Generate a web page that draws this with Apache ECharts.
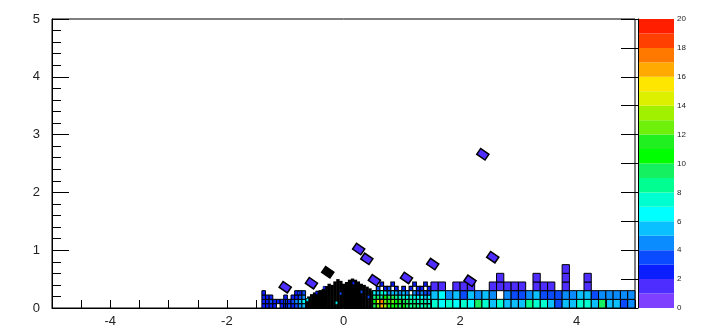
<!DOCTYPE html>
<html><head><meta charset="utf-8">
<script src="https://cdn.jsdelivr.net/npm/echarts@6/dist/echarts.min.js"></script>
<style>html,body{margin:0;padding:0;background:#fff}#c{width:714px;height:329px}</style>
</head><body><div id="c"></div>
<script>
// ---- data ----
const xLabels = [-4, -2, 0, 2, 4];
const yLabels = [0, 1, 2, 3, 4, 5];
const colorbarLabels = [0, 2, 4, 6, 8, 10, 12, 14, 16, 18, 20];
const colorbarLevels = [0,1,2,3,4,5,6,7,8,9,10,11,12,13,14,15,16,17,18,19];
const palette = ['#7f3fff','#4d2dff','#0a1eff','#0a4bff','#0a8cff','#0ac0ff','#00ffff','#00ffd0','#00ff90','#14f060',
                 '#00ff00','#20f020','#6ef00a','#a0f000','#dcf000','#ffe600','#ffaa00','#ff7800','#ff4000','#ff1e00'];

// far bins: x from 1.5, width 0.125; rows of height 0.15
const farRow0 = [7,6,7,6,7,6,9,7,5,7,5,5,5,8,7,7,5,3,5,5,7,7,5,9,5,5,3,4];
const farRow1 = [5,6,4,5,3,5,4,5,4.5,0,4.5,3,3,4.5,5,3,3,3,4,4.5,5,5,3,4.5,4.5,4.5,4,4.5];
const farRow2 = [1.5,1.5,0,1.5,1.5,1.5,0,0,1.5,1.5,1.5,1.5,1.5,0,1.5,1.5,1.5,0,1.5,0,0,1.5,0,0,0,0,0,0];
const farRow3 = [0,0,0,0,0,0,0,0,0,1.5,0,0,0,0,1.5,0,0,0,1.5,0,0,1.5,0,0,0,0,0,0];
const farRow4 = [0,0,0,0,0,0,0,0,0,0,0,0,0,0,0,0,0,0,1.5,0,0,0,0,0,0,0,0,0];

// near bins: x from 0.5, width 0.0625; rows of height 0.075
const nearRow0 = [9,12,16,13,11,10,10,9,10,9,8,9,8,7,8,7];
const nearRow1 = [10,14,17,12,11,12,10,11,9,9,8,8,7,8,7,7];
const nearRow2 = [8,9,11,10,9,9,8,7,7,6,7,6,6,6,5,6];
const nearRow3 = [6,5,7,6,4,5,5,4,5,4,0,4,3,4,3,3];
const nearRow4 = [0,3,0,2,3,0,2,0,2,0,2,0,2,2,0,2];
const nearRow5 = [0,0,2,0,0,2,0,0,0,0,0,2,0,0,2,0];

// left bins: x from -1.4, width 0.0625; rows of height 0.075
const leftRow0 = [2,2,2,2,0,2,2,3,2,3,4,5];
const leftRow1 = [2,2,3,2,2,2,3,2,3,4,5,6];
const leftRow2 = [2,2,2,0,0,0,2,0,2,2,3,4];
const leftRow3 = [2,0,0,0,0,0,0,0,0,2,2,3];

// dense central region (drawn black), x from -0.75 step 0.05: top of region
const blobTop = [0.10,0.14,0.17,0.20,0.24,0.27,0.30,0.31,0.33,0.38,0.42,0.40,0.46,0.50,0.47,0.42,0.45,0.49,0.51,0.49,0.46,0.42,0.40,0.37,0.34,0.30,0.26,0.22,0.18,0.14];
// coloured specks inside the dense region
const speckX = [-0.77,-0.46,-0.33,0.17,0.31,0.43,-0.12,0.65,-0.62,-0.05];
const speckY = [0.26,0.26,0.35,0.43,0.28,0.19,0.09,0.19,0.14,0.25];
const speckV = [3,2,2,2,3,3,6,7,6,3];

// isolated bins
const isoX = [2.39,0.26,0.40,1.53,2.56,1.08,2.17,-1.0,-0.55,0.53];
const isoY = [2.66,1.02,0.85,0.76,0.88,0.52,0.47,0.36,0.43,0.48];
const isoV = [1.5,1.5,1.5,1.5,1.5,1.5,1.5,1.5,1.5,1.5];
const isoBlackX = [-0.27];
const isoBlackY = [0.62];

// ---- build ----
function gridCells(rows, x0, dx, dy) {
  const out = [];
  rows.forEach((row, r) => row.forEach((v, c) => {
    if (v > 0) out.push([x0 + (c + 0.5) * dx, (r + 0.5) * dy, v]);
  }));
  return out;
}
const farData = gridCells([farRow0, farRow1, farRow2, farRow3, farRow4], 1.5, 0.125, 0.15);
const nearData = gridCells([nearRow0, nearRow1, nearRow2, nearRow3, nearRow4, nearRow5], 0.5, 0.0625, 0.075);
const leftData = gridCells([leftRow0, leftRow1, leftRow2, leftRow3], -1.4, 0.0625, 0.075);
const blobData = blobTop.map((t, i) => [-0.75 + i * 0.05, t]);
const speckData = speckX.map((x, i) => [x, speckY[i], speckV[i]]);
const isoData = isoX.map((x, i) => [x, isoY[i], isoV[i]]);
const isoBlackData = isoBlackX.map((x, i) => [x, isoBlackY[i], 0]);
const cbData = colorbarLevels.map(l => [0, l, l + 0.5]);

function cellRenderer(w, h, lw) {
  return function (params, api) {
    const x = api.value(0), y = api.value(1);
    const p = api.coord([x - w / 2, y + h / 2]);
    const s = api.size([w, h]);
    return {type: 'rect', shape: {x: p[0], y: p[1], width: s[0], height: s[1]},
      style: {fill: api.visual('color'), stroke: '#000', lineWidth: lw}};
  };
}
function blobRenderer(params, api) {
  const x = api.value(0), t = api.value(1);
  const p = api.coord([x - 0.025, t]);
  const s = api.size([0.05, t]);
  return {type: 'rect', shape: {x: p[0], y: p[1], width: s[0] + 0.5, height: s[1]}, style: {fill: '#000'}};
}
function isoRenderer(fillBlack) {
  return function (params, api) {
    const c = api.coord([api.value(0), api.value(1)]);
    return {type: 'rect', x: c[0], y: c[1], rotation: -0.6,
      shape: {x: -5, y: -3.5, width: 10, height: 7},
      style: {fill: fillBlack ? '#000' : api.visual('color'), stroke: '#000', lineWidth: 1.5}};
  };
}
function cbRenderer(params, api) {
  const l = api.value(1);
  const p0 = api.coord([0, l + 1]);
  const p1 = api.coord([1, l]);
  return {type: 'rect', shape: {x: p0[0], y: p0[1], width: p1[0] - p0[0], height: p1[1] - p0[1]},
    style: {fill: api.visual('color')}};
}

const font = {fontFamily: 'Liberation Sans, Arial, sans-serif', color: '#222'};
const chart = echarts.init(document.getElementById('c'), null, {renderer: 'canvas'});
chart.setOption({
  animation: false,
  backgroundColor: '#fff',
  grid: [
    {left: 52, top: 19, width: 583, height: 289, show: true, borderColor: '#000', borderWidth: 1, backgroundColor: 'transparent'},
    {left: 638, top: 19, width: 36, height: 289}
  ],
  visualMap: {
    type: 'piecewise', show: false, dimension: 2, seriesIndex: [0, 2, 3, 4, 5, 6],
    pieces: colorbarLevels.map(l => ({gte: l, lt: l + 1, color: palette[l]}))
  },
  xAxis: [
    {type: 'value', gridIndex: 0, min: -5, max: 5, interval: 0.5, z: 10,
      axisLine: {onZero: false, lineStyle: {color: '#000', width: 1}},
      axisTick: {inside: true, length: 8, lineStyle: {color: '#000'}},
      splitLine: {show: false},
      axisLabel: Object.assign({fontSize: 13, margin: 7,
        formatter: v => (xLabels.indexOf(v) >= 0 ? String(v) : '')}, font)},
    {type: 'value', gridIndex: 1, min: 0, max: 1, show: false}
  ],
  yAxis: [
    {type: 'value', gridIndex: 0, min: 0, max: 5, interval: 1, z: 10,
      axisLine: {show: true, onZero: false, lineStyle: {color: '#000', width: 1}},
      axisTick: {show: true, inside: true, length: 17, lineStyle: {color: '#000'}},
      minorTick: {show: true, splitNumber: 5, length: 9, lineStyle: {color: '#000'}},
      splitLine: {show: false},
      axisLabel: Object.assign({fontSize: 13, margin: 12,
        formatter: v => (yLabels.indexOf(v) >= 0 ? String(v) : '')}, font)},
    {type: 'value', gridIndex: 1, min: 0, max: 20, interval: 2, position: 'right', z: 10,
      axisLine: {show: true, lineStyle: {color: '#000', width: 1}},
      axisTick: {show: true, inside: true, length: 17, lineStyle: {color: '#000'}},
      splitLine: {show: false},
      axisLabel: Object.assign({fontSize: 8, margin: 3,
        formatter: v => (colorbarLabels.indexOf(v) >= 0 ? String(v) : '')}, font)}
  ],
  series: [
    {type: 'custom', xAxisIndex: 1, yAxisIndex: 1, renderItem: cbRenderer, data: cbData, encode: {x: 0, y: 1}, z: 1},
    {type: 'custom', renderItem: blobRenderer, data: blobData, encode: {x: 0, y: 1}, z: 2},
    {type: 'custom', renderItem: cellRenderer(0.0625, 0.075, 1), data: leftData, encode: {x: 0, y: 1}, z: 3},
    {type: 'custom', renderItem: cellRenderer(0.0625, 0.075, 1.1), data: nearData, encode: {x: 0, y: 1}, z: 3},
    {type: 'custom', renderItem: cellRenderer(0.125, 0.15, 1), data: farData, encode: {x: 0, y: 1}, z: 3},
    {type: 'custom', renderItem: cellRenderer(0.04, 0.05, 0.5), data: speckData, encode: {x: 0, y: 1}, z: 4},
    {type: 'custom', renderItem: isoRenderer(false), data: isoData, encode: {x: 0, y: 1}, z: 5},
    {type: 'custom', renderItem: isoRenderer(true), data: isoBlackData, encode: {x: 0, y: 1}, z: 5}
  ]
});
</script>
</body></html>
